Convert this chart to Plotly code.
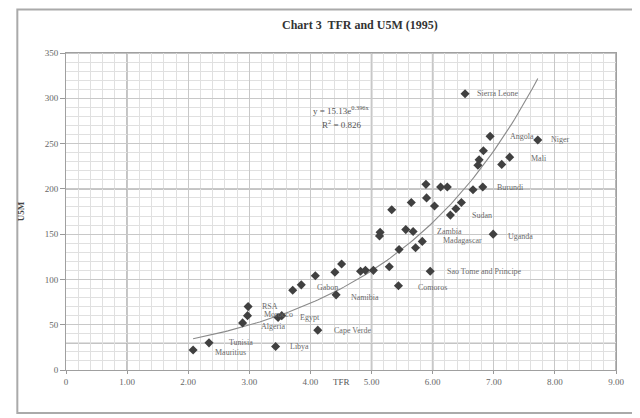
import numpy as np
import plotly.graph_objects as go

# ---- data ----
tfr = [2.08, 2.34, 2.89, 2.97, 2.98, 3.43, 3.47, 3.53, 4.12, 3.71,
       3.85, 4.08, 4.40, 4.51, 4.42, 4.82, 4.90, 5.03, 5.29, 5.44,
       5.45, 5.14, 5.13, 5.33, 5.56, 5.68, 5.72, 5.83, 5.65, 5.96,
       5.89, 5.90, 6.03, 6.13, 6.24, 6.29, 6.38, 6.47, 6.53, 6.94,
       7.72, 6.83, 6.76, 6.74, 7.26, 7.13, 6.66, 6.82, 6.99]
u5m = [22, 30, 52, 60, 70, 26, 58, 60, 44, 88,
       94, 104, 108, 117, 83, 109, 110, 110, 114, 93,
       133, 152, 148, 177, 155, 153, 135, 142, 185, 109,
       205, 190, 181, 202, 202, 171, 178, 185, 305, 258,
       254, 242, 232, 226, 235, 227, 199, 202, 150]
names = ["Mauritius", "Tunisia", "Algeria", "Morocco", "RSA", "Libya", "", "Egypt", "Cape Verde", "",
         "Gabon", "", "", "", "Namibia", "", "", "", "", "Comoros",
         "", "", "", "", "", "Zambia", "", "Madagascar", "", "Sao Tome and Principe",
         "", "", "", "", "", "Sudan", "", "", "Sierra Leone", "Angola",
         "Niger", "", "", "", "Mali", "", "", "Burundi", "Uganda"]

x_ticks = [0, 1, 2, 3, 4, 5, 6, 7, 8, 9]
x_ticktext = ["0", "1.00", "2.00", "3.00", "4.00", "5.00", "6.00", "7.00", "8.00", "9.00"]
y_ticks = [0, 50, 100, 150, 200, 250, 300, 350]

fit_a = 15.13
fit_b = 0.396
eq_text = "y = 15.13e<sup>0.396x</sup>"
r2_text = "R<sup>2</sup> = 0.826"

# ---- styling ----
label_dx = {"Sierra Leone": 10, "Angola": 18, "Niger": 11, "Mali": 19, "Burundi": 12,
            "Sudan": 20, "Zambia": 22, "Madagascar": 19, "Uganda": 13,
            "Sao Tome and Principe": 15, "Comoros": 18, "Namibia": 13, "Gabon": 14,
            "Cape Verde": 14, "Libya": 12, "Tunisia": 18, "Mauritius": 20, "RSA": 12,
            "Algeria": 16, "Morocco": 14, "Egypt": 16}
label_dy = {"Mauritius": -2, "Namibia": -3, "Gabon": -3, "Egypt": -2, "Uganda": -2,
            "Madagascar": 1, "Comoros": -2, "Mali": -1, "Algeria": -4, "Morocco": 1}
emph_x = [1, 5, 6, 9]
emph_y = [30, 200, 350]

serif = "Liberation Serif"
label_col = "#6a6a6a"

fig = go.Figure()

xs = np.linspace(min(tfr), max(tfr), 120)
fig.add_trace(go.Scatter(x=xs, y=fit_a * np.exp(fit_b * xs), mode="lines",
                         line=dict(color="#8a8a8a", width=1.1), hoverinfo="skip",
                         showlegend=False))

fig.add_trace(go.Scatter(x=tfr, y=u5m, mode="markers",
                         marker=dict(symbol="diamond", size=7, color="#404040"),
                         showlegend=False))

for xv in emph_x:
    fig.add_shape(type="line", xref="x", yref="paper", x0=xv, x1=xv, y0=0, y1=1,
                  line=dict(color="#a8a8a8", width=1.6), layer="below")
for yv in emph_y:
    fig.add_shape(type="line", xref="paper", yref="y", x0=0, x1=1, y0=yv, y1=yv,
                  line=dict(color="#b0b0b0", width=1.6), layer="below")

for xv, yv, nm in zip(tfr, u5m, names):
    if nm:
        fig.add_annotation(x=xv, y=yv, text=nm, showarrow=False, xanchor="left",
                           xshift=label_dx.get(nm, 12), yshift=label_dy.get(nm, 0),
                           font=dict(family=serif, size=8, color=label_col))

fig.add_annotation(x=4.5, y=287, xref="x", yref="y", text=eq_text, showarrow=False,
                   xanchor="center", font=dict(family=serif, size=9, color="#555"))
fig.add_annotation(x=4.5, y=272, xref="x", yref="y", text=r2_text, showarrow=False,
                   xanchor="center", font=dict(family=serif, size=9, color="#555"))

fig.add_annotation(x=0.534, y=1.088, xref="paper", yref="paper",
                   text="<b>Chart 3  TFR and U5M (1995)</b>", showarrow=False,
                   yanchor="middle",
                   font=dict(family=serif, size=12, color="#333"))
fig.add_annotation(x=0.5, y=-0.016, xref="paper", yref="paper", text="TFR",
                   showarrow=False, yanchor="top",
                   font=dict(family=serif, size=9, color="#555"))

# outer frame
fig.add_shape(type="rect", xref="paper", yref="paper", x0=-0.0885, x1=1.036,
              y0=-0.1356, y1=1.137, line=dict(color="#aaaaaa", width=2))

fig.update_layout(
    width=632, height=410,
    margin=dict(l=50, r=24, t=45, b=48),
    paper_bgcolor="white", plot_bgcolor="white",
    font=dict(family=serif, size=9, color="#555"),
)
fig.update_xaxes(range=[0, 9], tickvals=x_ticks, ticktext=x_ticktext,
                 showgrid=True, gridcolor="#c8c8c8", gridwidth=1,
                 minor=dict(dtick=0.2, showgrid=True, gridcolor="#e0e0e0", gridwidth=1),
                 showline=True, linecolor="#a0a0a0", mirror=True, zeroline=False,
                 ticks="outside", ticklen=3, tickcolor="#999",
                 tickfont=dict(family=serif, size=9, color="#666"))
fig.update_yaxes(range=[0, 350], tickvals=y_ticks,
                 showgrid=True, gridcolor="#c8c8c8", gridwidth=1,
                 minor=dict(dtick=10, showgrid=True, gridcolor="#e0e0e0", gridwidth=1),
                 showline=True, linecolor="#a0a0a0", mirror=True, zeroline=False,
                 ticks="outside", ticklen=5, tickcolor="#999",
                 title=dict(text="<b>U5M</b>", standoff=18,
                            font=dict(family=serif, size=9, color="#444")),
                 tickfont=dict(family=serif, size=9, color="#666"))

fig.write_html("out.html")
